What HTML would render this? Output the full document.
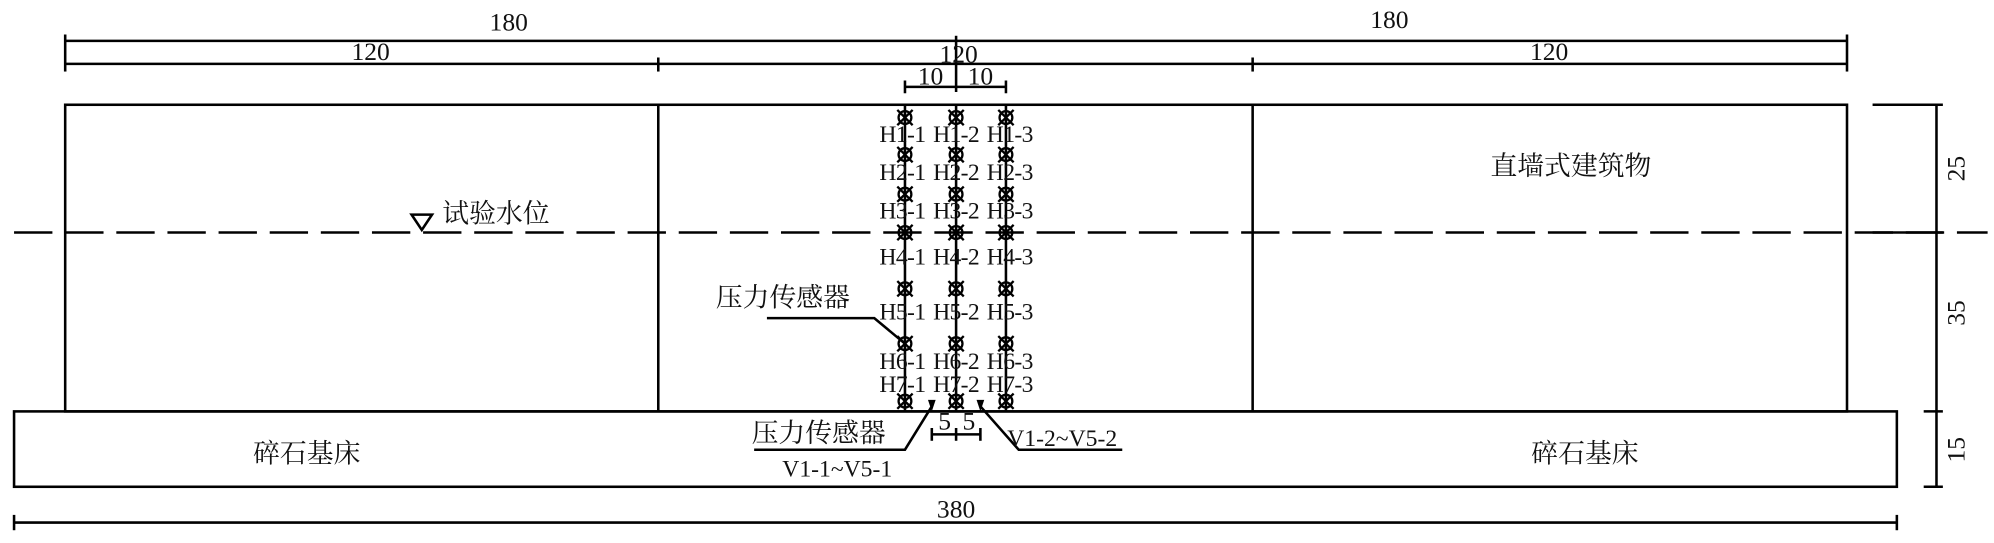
<!DOCTYPE html>
<html><head><meta charset="utf-8"><style>
html,body{margin:0;padding:0;background:#fff;}
svg{display:block;}
text{font-family:"Liberation Serif","Noto Serif CJK SC","Noto Sans CJK SC",serif;fill:#111;}
</style></head><body>
<svg width="1994" height="543" viewBox="0 0 1560 425" preserveAspectRatio="none" xmlns="http://www.w3.org/2000/svg">
<defs>
<g id="s"><circle r="5"/><line x1="-6" y1="-6" x2="6" y2="6"/><line x1="-6" y1="6" x2="6" y2="-6"/></g>
</defs>
<g stroke="#000" stroke-width="2" fill="none">
<line x1="51" y1="32" x2="1445" y2="32"/>
<line x1="51" y1="50" x2="1445" y2="50"/>
<line x1="51" y1="27" x2="51" y2="56"/>
<line x1="1445" y1="27" x2="1445" y2="56"/>
<line x1="515" y1="45" x2="515" y2="56"/>
<line x1="980" y1="45" x2="980" y2="56"/>
<line x1="748" y1="28" x2="748" y2="72"/>
<line x1="708" y1="68" x2="787" y2="68"/>
<line x1="708" y1="63" x2="708" y2="73"/>
<line x1="787" y1="63" x2="787" y2="73"/>
<rect x="51" y="82" width="1394" height="240"/>
<line x1="515" y1="82" x2="515" y2="322"/>
<line x1="980" y1="82" x2="980" y2="322"/>
<rect x="11" y="322" width="1473" height="59"/>
<line x1="11" y1="182" x2="1555" y2="182" stroke-dasharray="30,10"/>
<polygon points="322,168 338,168 330,180"/>
<line x1="708" y1="82" x2="708" y2="322"/>
<line x1="748" y1="82" x2="748" y2="322"/>
<line x1="787" y1="82" x2="787" y2="322"/>
<polyline points="600,249 684,249 708,269"/>
<polyline points="590,352 708,352 729,318"/>
<polyline points="767,318 797,352 878,352"/>
<line x1="729" y1="340" x2="767" y2="340"/>
<line x1="729" y1="335" x2="729" y2="345"/>
<line x1="767" y1="335" x2="767" y2="345"/>
<line x1="748" y1="335" x2="748" y2="345"/>
<line x1="11" y1="409" x2="1484" y2="409"/>
<line x1="11" y1="403" x2="11" y2="415"/>
<line x1="1484" y1="403" x2="1484" y2="415"/>
<line x1="1515" y1="82" x2="1515" y2="381"/>
<line x1="1465" y1="82" x2="1520" y2="82"/>
<line x1="1465" y1="182" x2="1520" y2="182"/>
<line x1="1505" y1="322" x2="1520" y2="322"/>
<line x1="1505" y1="381" x2="1520" y2="381"/>
</g>
<g fill="#000">
<polygon points="726,313 732,313 729,322"/>
<polygon points="764,313 770,313 767,322"/>
</g>
<g stroke="#000" stroke-width="1.8" fill="none">
<use href="#s" x="708" y="92"/><use href="#s" x="748" y="92"/><use href="#s" x="787" y="92"/>
<use href="#s" x="708" y="121"/><use href="#s" x="748" y="121"/><use href="#s" x="787" y="121"/>
<use href="#s" x="708" y="152"/><use href="#s" x="748" y="152"/><use href="#s" x="787" y="152"/>
<use href="#s" x="708" y="182"/><use href="#s" x="748" y="182"/><use href="#s" x="787" y="182"/>
<use href="#s" x="708" y="226"/><use href="#s" x="748" y="226"/><use href="#s" x="787" y="226"/>
<use href="#s" x="708" y="269"/><use href="#s" x="748" y="269"/><use href="#s" x="787" y="269"/>
<use href="#s" x="708" y="314"/><use href="#s" x="748" y="314"/><use href="#s" x="787" y="314"/>
</g>
<g font-size="20" text-anchor="middle">
<text x="398" y="24">180</text>
<text x="1087" y="22">180</text>
<text x="290" y="47">120</text>
<text x="750" y="49">120</text>
<text x="1212" y="47">120</text>
<text x="728" y="66">10</text>
<text x="767" y="66">10</text>
<text x="748" y="405">380</text>
<text x="739" y="336">5</text>
<text x="758" y="336">5</text>
</g>
<g font-size="18.5" text-anchor="middle" letter-spacing="-0.5">
<text x="706" y="111">H1-1</text><text x="748" y="111">H1-2</text><text x="790" y="111">H1-3</text>
<text x="706" y="141">H2-1</text><text x="748" y="141">H2-2</text><text x="790" y="141">H2-3</text>
<text x="706" y="171">H3-1</text><text x="748" y="171">H3-2</text><text x="790" y="171">H3-3</text>
<text x="706" y="207">H4-1</text><text x="748" y="207">H4-2</text><text x="790" y="207">H4-3</text>
<text x="706" y="250">H5-1</text><text x="748" y="250">H5-2</text><text x="790" y="250">H5-3</text>
<text x="706" y="289">H6-1</text><text x="748" y="289">H6-2</text><text x="790" y="289">H6-3</text>
<text x="706" y="307">H7-1</text><text x="748" y="307">H7-2</text><text x="790" y="307">H7-3</text>
</g>
<g font-size="21">
<text x="346" y="174">试验水位</text>
<text x="1166" y="137">直墙式建筑物</text>
<text x="560" y="240">压力传感器</text>
<text x="588" y="346">压力传感器</text>
<text x="198" y="362">碎石基床</text>
<text x="1198" y="362">碎石基床</text>
</g>
<g font-size="18.5">
<text x="612" y="373">V1-1~V5-1</text>
<text x="788" y="349">V1-2~V5-2</text>
</g>
<g font-size="20" text-anchor="middle">
<text transform="translate(1537,132) rotate(-90)">25</text>
<text transform="translate(1537,245) rotate(-90)">35</text>
<text transform="translate(1537,352) rotate(-90)">15</text>
</g>
</svg>
</body></html>
